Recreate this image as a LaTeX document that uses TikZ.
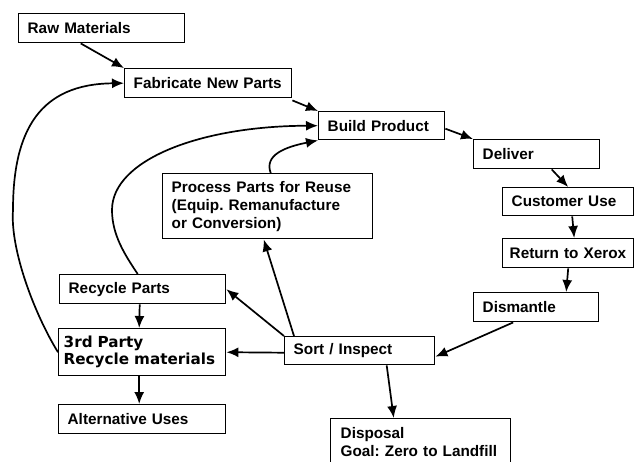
\documentclass[tikz,border=0pt]{standalone}
\usepackage{fontspec}
\setmainfont{Liberation Sans}
\newfontfamily\widefont{DejaVu Sans}
\usetikzlibrary{arrows.meta}
\frenchspacing

\tikzset{
  box/.style={draw, line width=1.4pt, anchor=north west, inner xsep=9pt, inner ysep=0pt,
    minimum height=29pt, align=left, font=\bfseries\fontsize{15.3}{18}\selectfont},
  flow/.style={line width=1.7pt, -{Latex[length=12pt,width=10pt]}}
}

\begin{document}
\begin{tikzpicture}[x=1pt,y=1pt,yscale=-1,xscale=1]
\useasboundingbox (0,0) rectangle (634,461);

% Text Node
\node[box, text width=148pt] (raw) at (18,13) {Raw Materials};
% Text Node
\node[box, text width=149pt] (fab) at (124,68) {Fabricate New Parts};
% Text Node
\node[box, text width=108pt, minimum height=28pt] (build) at (318,111) {Build Product};
% Text Node
\node[box, text width=108pt] (deliver) at (473,139) {Deliver};
% Text Node
\node[box, text width=113pt, minimum height=28pt] (cust) at (502,187) {Customer Use};
% Text Node
\node[box, inner xsep=7pt, text width=117pt] (ret) at (502,238) {Return to Xerox};
% Text Node
\node[box, text width=107pt] (dism) at (473,292) {Dismantle};
% Text Node
\node[box, text width=192pt, minimum height=65pt] (process) at (162,173) {Process Parts for Reuse\\(Equip. Remanufacture\\or Conversion)};
% Text Node
\node[box, text width=148pt] (recycle) at (59,274) {Recycle Parts};
% Text Node
\node[box, inner xsep=5pt, text width=157pt, minimum height=47pt,
  font=\widefont\bfseries\fontsize{15.2}{17}\selectfont] (third) at (58,328) {3rd Party\\Recycle materials};
% Text Node
\node[box, text width=149pt] (alt) at (58,404) {Alternative Uses};
% Text Node
\node[box, text width=132pt, minimum height=28pt] (sort) at (284,336) {Sort / Inspect};
% Text Node
\node[box, inner xsep=10pt, text width=160pt, minimum height=47pt] (disp) at (330,418) {Disposal\\Goal: Zero to Landfill};

%Straight Lines
\draw[flow] ([xshift=-21pt]raw.south) -- (fab.north west);
%Straight Lines
\draw[flow] ([yshift=2pt]fab.south east) -- (build.north west);
%Straight Lines
\draw[flow] ([yshift=3pt]build.east) -- (deliver.north west);
%Straight Lines
\draw[flow] ([xshift=15pt]deliver.south) -- (cust.north);
%Straight Lines
\draw[flow] ([xshift=4pt]cust.south) -- ([xshift=6pt]ret.north);
%Straight Lines
\draw[flow] (ret.south) -- ([xshift=30pt]dism.north);
%Straight Lines
\draw[flow] ([xshift=-23pt]dism.south) -- ([yshift=6pt]sort.east);
%Straight Lines
\draw[flow] (sort.north west) -- (recycle.east);
%Straight Lines
\draw[flow] ([xshift=10pt]sort.north west) -- ([xshift=-4pt]process.south);
%Straight Lines
\draw[flow] ([yshift=2pt]sort.west) -- (third.east);
%Straight Lines
\draw[flow] ([xshift=27pt]sort.south) -- ([xshift=-27pt]disp.north);
%Straight Lines
\draw[flow] ([xshift=-3pt]recycle.south) -- ([xshift=-3pt]third.north);
%Straight Lines
\draw[flow] ([xshift=-3pt]third.south) -- ([xshift=-3pt]alt.north);

%Curve Lines
\draw[flow] (third.west) .. controls (35,315) and (10,250) .. (13,210) .. controls (13,130) and (40,84) .. (fab.west);
%Curve Lines
\draw[flow] ([xshift=-5pt]recycle.north) .. controls (125,255) and (112,235) .. (112,210) .. controls (112,160) and (200,126) .. (build.west);
%Curve Lines
\draw[flow] ([xshift=3pt]process.north) .. controls (264,155) and (285,147) .. (build.south west);

\end{tikzpicture}
\end{document}
